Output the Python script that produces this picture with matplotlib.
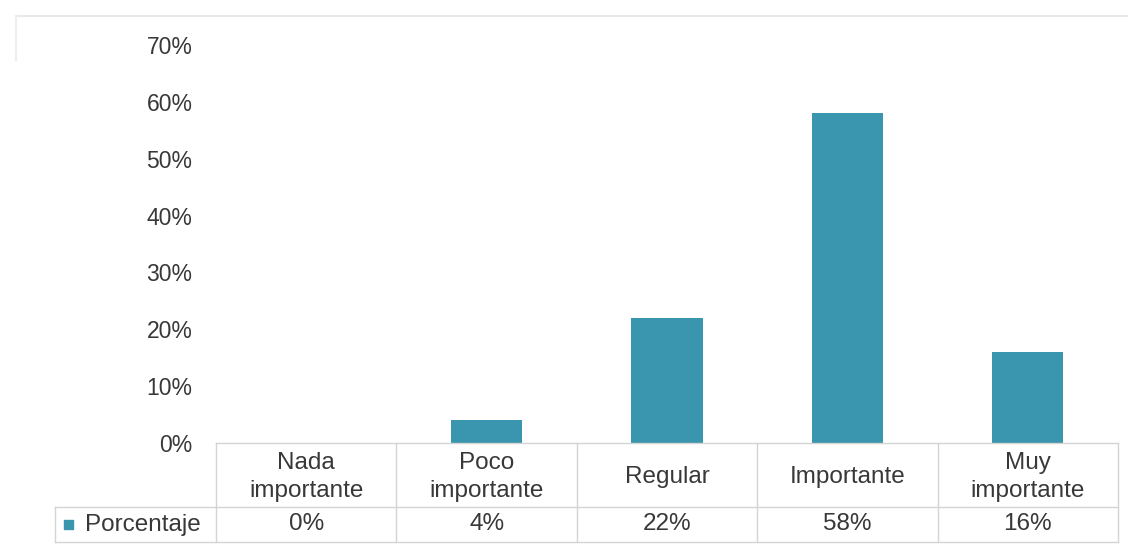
import matplotlib.pyplot as plt
from matplotlib.patches import Rectangle
from matplotlib.lines import Line2D

# Datos
categorias = ["Nada\nimportante", "Poco\nimportante", "Regular", "Importante", "Muy\nimportante"]
porcentajes = [0, 4, 22, 58, 16]
serie = "Porcentaje"
yticks = [0, 10, 20, 30, 40, 50, 60, 70]

COLOR_BARRA = "#3a96ae"
COLOR_TEXTO = "#383838"
COLOR_BORDE = "#d4d4d4"
FS_EJE = 16.5
FS_TABLA = 17.5

plt.rcParams['font.family'] = ['Liberation Sans', 'DejaVu Sans']

W, H = 1131, 547
fig = plt.figure(figsize=(W / 100, H / 100), dpi=100)

# restos del marco del gráfico (arriba e izquierda)
fig.lines.append(Line2D([16 / W, 1 - 4 / W], [1 - 16 / H, 1 - 16 / H],
                        transform=fig.transFigure, color="#e8e8e8", linewidth=1.5))
fig.lines.append(Line2D([16 / W, 16 / W], [1 - 16 / H, 1 - 60 / H],
                        transform=fig.transFigure, color="#eeeeee", linewidth=1.5))

# área de trazado en píxeles
x0, x1 = 216, 1118
y_top, y_cero = 45, 443
ax = fig.add_axes([x0 / W, 1 - y_cero / H, (x1 - x0) / W, (y_cero - y_top) / H])

x = list(range(len(categorias)))
ax.bar(x, porcentajes, width=0.395, color=COLOR_BARRA, zorder=2)

ax.set_xlim(-0.5, len(categorias) - 0.5)
ax.set_ylim(0, 70)
ax.set_yticks(yticks)
ax.set_yticklabels([f"{v}%" for v in yticks], fontsize=FS_EJE, color=COLOR_TEXTO)
ax.tick_params(axis='y', length=0, pad=17)
ax.set_xticks([])
for s in ax.spines.values():
    s.set_visible(False)

# tabla de datos bajo el eje
h_ax = y_cero - y_top
fila1 = -(507 - y_cero) / h_ax
fila2 = -(542 - y_cero) / h_ax
col_px = (x1 - x0) / len(categorias)
izq_leyenda = -0.5 - (x0 - 55) / col_px

tr = ax.get_xaxis_transform()
kw = dict(color=COLOR_BORDE, linewidth=1, transform=tr, clip_on=False)
n = len(categorias)
ax.plot([-0.5, n - 0.5], [0, 0], **kw)
ax.plot([izq_leyenda, n - 0.5], [fila1, fila1], **kw)
ax.plot([izq_leyenda, n - 0.5], [fila2, fila2], **kw)
ax.plot([izq_leyenda, izq_leyenda], [fila1, fila2], **kw)
for k in range(n + 1):
    ax.plot([k - 0.5, k - 0.5], [0, fila2], **kw)

for i, (cat, val) in enumerate(zip(categorias, porcentajes)):
    ax.text(i, fila1 / 2 - 0.004, cat, transform=tr, ha='center', va='center',
            fontsize=FS_TABLA, color=COLOR_TEXTO, linespacing=1.35)
    ax.text(i, (fila1 + fila2) / 2, f"{val}%", transform=tr, ha='center',
            va='center', fontsize=FS_TABLA, color=COLOR_TEXTO)

# clave de la serie
px = 1 / col_px
py = 1 / h_ax
ax.add_patch(Rectangle((izq_leyenda + 9 * px, (fila1 + fila2) / 2 - 4.5 * py), 9 * px, 9 * py,
                       transform=tr, color=COLOR_BARRA, clip_on=False))
ax.text(izq_leyenda + 30 * px, (fila1 + fila2) / 2, serie, transform=tr,
        ha='left', va='center', fontsize=FS_TABLA, color=COLOR_TEXTO)

fig.savefig("out.png", dpi=100)
